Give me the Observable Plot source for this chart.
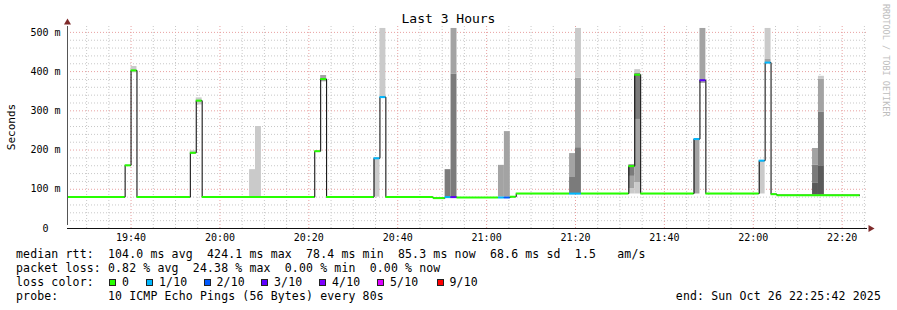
<!DOCTYPE html>
<html><head><meta charset="utf-8">
<script src="https://cdn.jsdelivr.net/npm/d3@7"></script>
<script src="https://cdn.jsdelivr.net/npm/@observablehq/plot@0.6"></script>
<style>
body{margin:0;background:#fff;}
#wrap{position:relative;width:897px;height:310px;overflow:hidden;font-family:"DejaVu Sans Mono",monospace;color:#000;background:#fff;}
#chart{position:absolute;left:0;top:0;}
.t{position:absolute;white-space:pre;line-height:14px;font-size:11.5px;letter-spacing:0.15px;}
.title{position:absolute;left:0;top:11px;width:897px;text-align:center;font-size:13px;line-height:15px;}
.wm{position:absolute;left:891px;top:4px;transform-origin:0 0;transform:rotate(90deg);font-size:8.5px;color:#bdbdbd;white-space:pre;line-height:10px;}
.ylab{position:absolute;left:12px;top:127px;transform:translate(-50%,-50%) rotate(-90deg);font-size:11px;line-height:12px;white-space:pre;}
.sq{position:absolute;width:7px;height:7px;box-sizing:border-box;border:1px solid #222;}
</style></head>
<body><div id="wrap"><div id="chart"></div></div>
<script>
// ---- data ----
const titleText = "Last 3 Hours";
const yLabel = "Seconds";
const startTime = "19:25:42", endTime = "22:25:42";
// median RTT runs: [start, end, median ms, lost pings of 10]
const medianRuns = [
  ["19:25:20","19:38:40",80,0],["19:38:40","19:40:00",161,0],["19:40:00","19:41:20",403,0],
  ["19:41:20","19:53:20",80,0],["19:53:20","19:54:40",193,0],["19:54:40","19:56:00",326,0],
  ["19:56:00","20:21:20",80,0],["20:21:20","20:22:40",197,0],["20:22:40","20:24:00",381,0],
  ["20:24:00","20:34:40",80,0],["20:34:40","20:36:00",179,1],["20:36:00","20:37:20",335,1],
  ["20:37:20","20:48:00",80,0],["20:48:00","20:50:40",77.5,0],["20:50:40","20:52:00",80,1],
  ["20:52:00","20:53:20",80,3],["20:53:20","21:02:40",79,0],["21:02:40","21:04:00",79,1],
  ["21:04:00","21:05:20",79,2],["21:05:20","21:06:40",81,0],["21:06:40","21:18:40",89,0],
  ["21:18:40","21:20:00",89,1],["21:20:00","21:21:20",89,1],["21:21:20","21:32:00",89,0],
  ["21:32:00","21:33:20",159,0],["21:33:20","21:34:40",392,0],["21:34:40","21:46:40",89,0],
  ["21:46:40","21:48:00",228,1],["21:48:00","21:49:20",378,3],["21:49:20","22:01:20",89,0],
  ["22:01:20","22:02:40",173,1],["22:02:40","22:04:00",423,1],["22:04:00","22:05:20",87.5,0],
  ["22:05:20","22:24:00",85,0]
];
// smoke bands: [start, end, low ms, high ms, shade 0=light..3=darkest]
const smokeBands = [
  ["19:40:00","19:41:20",397,413,0],["19:53:20","19:54:40",191,198,0],["19:54:40","19:56:00",315,333,0],
  ["20:06:40","20:08:00",80,150,0],["20:08:00","20:09:20",80,260,0],
  ["20:22:40","20:24:00",374,390,1],
  ["20:34:40","20:36:00",80,179,0],["20:36:00","20:37:20",335,510,0],
  ["20:50:40","20:52:00",80,150,2],["20:52:00","20:53:20",80,393,2],["20:52:00","20:53:20",393,510,1],
  ["21:02:40","21:04:00",80,161,1],["21:04:00","21:05:20",80,247,1],
  ["21:18:40","21:20:00",89,130,2],["21:18:40","21:20:00",130,191,1],
  ["21:20:00","21:21:20",89,206,2],["21:20:00","21:21:20",206,383,1],["21:20:00","21:21:20",383,510,0],
  ["21:32:00","21:33:20",88,102,0],["21:32:00","21:33:20",102,133,1],["21:32:00","21:33:20",133,157,2],["21:32:00","21:33:20",157,163,1],
  ["21:33:20","21:34:40",88,117,0],["21:33:20","21:34:40",117,278,1],["21:33:20","21:34:40",278,395,2],["21:33:20","21:34:40",395,405,0],
  ["21:46:40","21:48:00",88,228,1],["21:48:00","21:49:20",370,510,1],
  ["22:01:20","22:02:40",88,173,0],["22:02:40","22:04:00",423,431,1],["22:02:40","22:04:00",431,510,0],
  ["22:13:20","22:14:40",86,115,3],["22:13:20","22:14:40",115,161,2],["22:13:20","22:14:40",161,204,1],
  ["22:14:40","22:16:00",86,160,3],["22:14:40","22:16:00",160,296,2],["22:14:40","22:16:00",296,381,1],["22:14:40","22:16:00",381,388,0]
];
const shadeColors = ["#cacaca","#a3a3a3","#7b7b7b","#5a5a5a"];
const lossCounts = [0,1,2,3,4,5,9];
const lossLabels = ["0","1/10","2/10","3/10","4/10","5/10","9/10"];
const lossColors = ["#26ff00","#00b8ff","#0059ff","#5e00ff","#7e00ff","#dd00ff","#ff0000"];
const yTicks = [0,100,200,300,400,500];
const yTop = 515;
const statRows = [
  "median rtt:  104.0 ms avg  424.1 ms max  78.4 ms min  85.3 ms now  68.6 ms sd  1.5   am/s",
  "packet loss: 0.82 % avg  24.38 % max  0.00 % min  0.00 % now"
];
const lossRowLabel = "loss color:";
const probeRow = "probe:       10 ICMP Echo Pings (56 Bytes) every 80s";
const endRow = "end: Sun Oct 26 22:25:42 2025";
const watermark = "RRDTOOL / TOBI OETIKER";

// ---- build ----
const T = s => { const [h,m,x] = s.split(":").map(Number); return new Date(Date.UTC(2025,9,26,h,m,x)); };
const x0 = T(startTime), x1 = T(endTime);
const runs = medianRuns.map(([a,b,v,l]) => ({a:T(a), b:T(b), v, c: lossColors[lossCounts.indexOf(l)]}));
const linePts = runs.map(r => ({t:r.a, v:r.v})).concat([{t:runs[runs.length-1].b, v:runs[runs.length-1].v}]);
const smoke = smokeBands.map(([a,b,lo,hi,s]) => ({a:T(a), b:T(b), lo, hi, f: shadeColors[s]}));
const minorX = d3.utcMinute.every(5).range(x0, x1).filter(d => d.getUTCMinutes() % 20 !== 0);
const majorX = d3.utcMinute.every(20).range(x0, x1);
const minorY = d3.range(20, yTop, 20).filter(v => v % 100 !== 0);
const majorY = yTicks.filter(v => v > 0);
const dash = "1,2";
const minorCol = "#c8c8c8", majorCol = "#e8a0a0", arrowCol = "#7f2a2a";

const chart = Plot.plot({
  width: 897, height: 245,
  marginLeft: 67, marginRight: 30, marginTop: 26, marginBottom: 17,
  style: {fontFamily: "DejaVu Sans Mono", fontSize: "10px", background: "transparent", color: "#000"},
  x: {type: "utc", domain: [x0, x1], ticks: majorX, tickFormat: d3.utcFormat("%H:%M"), tickSize: 0, tickPadding: 5, label: null},
  y: {domain: [0, yTop], ticks: yTicks, tickFormat: d => d === 0 ? "0\u00a0\u00a0" : `${d} m`, tickSize: 0, tickPadding: 7, label: null},
  marks: [
    Plot.ruleY(minorY, {stroke: minorCol, strokeDasharray: dash}),
    Plot.ruleX(minorX, {stroke: minorCol, strokeDasharray: dash}),
    Plot.ruleY(majorY, {stroke: majorCol, strokeDasharray: dash}),
    Plot.ruleX(majorX, {stroke: majorCol, strokeDasharray: dash}),
    Plot.rect(smoke, {x1: "a", x2: "b", y1: "lo", y2: "hi", fill: "f", clip: true}),
    Plot.line(linePts, {x: "t", y: "v", curve: "step-after", stroke: "#000", strokeWidth: 1, clip: true}),
    Plot.ruleY(runs, {y: "v", x1: "a", x2: "b", stroke: "c", strokeWidth: 2, clip: true}),
    Plot.ruleY([0], {x1: x0, x2: x1, stroke: "#111"}),
    Plot.ruleX([x0], {y1: 0, y2: yTop, stroke: "#555", insetTop: -3}),
    Plot.dot([0], {x: () => x0, y: () => yTop, symbol: "triangle", r: 2.6, fill: arrowCol, stroke: "none", dy: -4}),
    Plot.dot([0], {x: () => x1, y: () => 0, symbol: "triangle", r: 2.6, fill: arrowCol, stroke: "none", rotate: 90, dx: 3})
  ]
});
document.getElementById("chart").appendChild(chart);

const wrap = document.getElementById("wrap");
function add(cls, text, css) {
  const d = document.createElement("div"); d.className = cls; d.textContent = text;
  Object.assign(d.style, css || {}); wrap.appendChild(d); return d;
}
add("title", titleText);
add("wm", watermark);
add("ylab", yLabel);
const rowTop = [247, 261, 275, 289];
statRows.forEach((s, i) => add("t", s, {left: "16px", top: rowTop[i] + "px"}));
add("t", lossRowLabel, {left: "16px", top: rowTop[2] + "px"});
const sqX = [109, 146, 203.5, 261, 319, 377, 436.5];
lossLabels.forEach((lab, i) => {
  const s = document.createElement("div"); s.className = "sq";
  s.style.left = sqX[i] + "px"; s.style.top = "279px"; s.style.background = lossColors[i];
  wrap.appendChild(s);
  add("t", lab, {left: (sqX[i] + 13) + "px", top: rowTop[2] + "px"});
});
add("t", probeRow, {left: "16px", top: rowTop[3] + "px"});
add("t", endRow, {right: "16px", top: rowTop[3] + "px"});
</script>
</body></html>
